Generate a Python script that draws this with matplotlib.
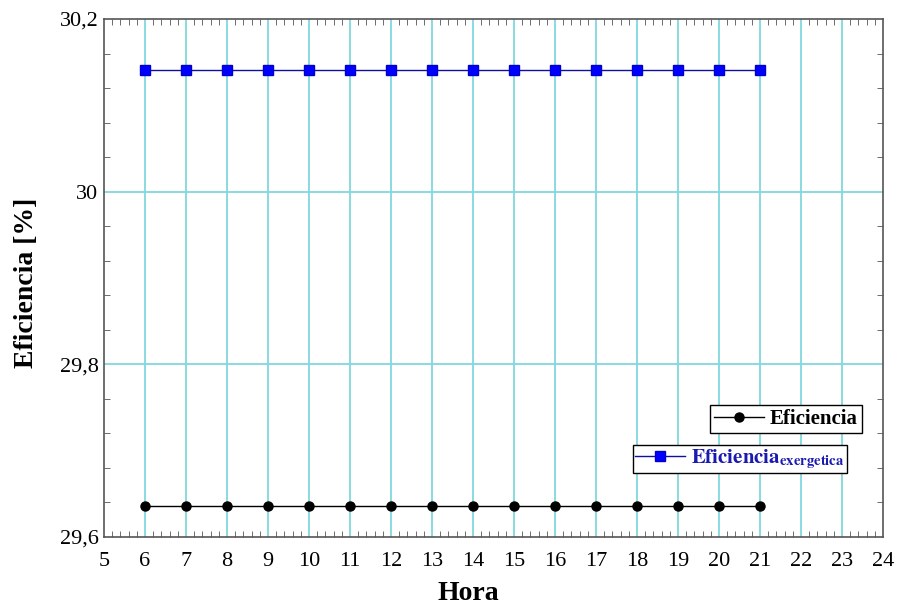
import matplotlib
matplotlib.use("Agg")
import matplotlib.pyplot as plt
from matplotlib.ticker import MultipleLocator, FuncFormatter
from matplotlib.lines import Line2D

plt.rcParams['font.family'] = ['Liberation Serif', 'DejaVu Serif']
plt.rcParams['mathtext.fontset'] = 'stix'

hora = [6, 7, 8, 9, 10, 11, 12, 13, 14, 15, 16, 17, 18, 19, 20, 21]
eficiencia = [29.636] * 16
eficiencia_exergetica = [30.141] * 16

fig = plt.figure(figsize=(8.98, 6.06), dpi=100)
ax = fig.add_axes([104 / 898, 1 - 537 / 606, (883 - 104) / 898, (537 - 19) / 606])

grid_color = '#80d8de'
for x in range(6, 24):
    ax.axvline(x, color=grid_color, lw=1.3, zorder=0)
for y in (29.8, 30.0):
    ax.axhline(y, color=grid_color, lw=1.3, zorder=0)

ax.plot(hora, eficiencia, color='black', lw=1, marker='o', ms=6.5, zorder=3)
ax.plot(hora, eficiencia_exergetica, color='#1010a0', lw=1, marker='s',
        ms=6.5, mfc='#0000ff', mec='#0000cc', zorder=3)

ax.set_xlim(5, 24)
ax.set_ylim(29.6, 30.2)
ax.xaxis.set_major_locator(MultipleLocator(1))
ax.xaxis.set_minor_locator(MultipleLocator(0.2))
ax.yaxis.set_major_locator(MultipleLocator(0.2))
ax.yaxis.set_minor_locator(MultipleLocator(0.04))


def comma_fmt(v, pos):
    s = f"{v:.1f}".replace('.', ',')
    if s.endswith(',0'):
        s = s[:-2]
    return s


ax.yaxis.set_major_formatter(FuncFormatter(comma_fmt))

ax.tick_params(which='both', direction='in', top=True, right=True,
               color='#555555', labelsize=16)
ax.tick_params(which='minor', length=4)
ax.tick_params(axis='x', which='major', length=0, pad=11)
ax.tick_params(axis='y', which='major', length=0, pad=4)
for sp in ax.spines.values():
    sp.set_color('#555555')
    sp.set_linewidth(1.2)

ax.set_xlabel('Hora', fontsize=20, fontweight='bold', labelpad=3)
ax.xaxis.set_label_coords((468 - 104) / 779, -0.085)
ax.set_ylabel('Eficiencia [%]', fontsize=20, fontweight='bold', labelpad=10)
ax.yaxis.set_label_coords(-0.084, 0.49)

h1 = Line2D([], [], color='black', lw=1, marker='o', ms=6.5)
h2 = Line2D([], [], color='#1010a0', lw=1, marker='s', ms=6.5,
            mfc='#0000ff', mec='#0000cc')

leg1 = ax.legend([h1], ['Eficiencia'], loc='lower right',
                 bbox_to_anchor=(862 / 898, 1 - 433 / 606), bbox_transform=fig.transFigure,
                 frameon=True, fancybox=False, framealpha=1, edgecolor='black',
                 prop={'weight': 'bold', 'size': 15}, handlelength=2.4,
                 borderpad=0.2, handletextpad=0.3, borderaxespad=0)
leg1.get_frame().set_linewidth(1.0)
ax.add_artist(leg1)

leg2 = ax.legend([h2], [r'$\mathbf{Eficiencia}_{\mathbf{exergetica}}$'], loc='lower right',
                 bbox_to_anchor=(847 / 898, 1 - 473 / 606), bbox_transform=fig.transFigure,
                 frameon=True, fancybox=False, framealpha=1, edgecolor='black',
                 prop={'size': 15}, handlelength=2.4,
                 borderpad=0.1, handletextpad=0.3, borderaxespad=0)
leg2.get_frame().set_linewidth(1.0)
for t in leg2.get_texts():
    t.set_color('#1a1ab0')

fig.savefig('out.png', dpi=100)
